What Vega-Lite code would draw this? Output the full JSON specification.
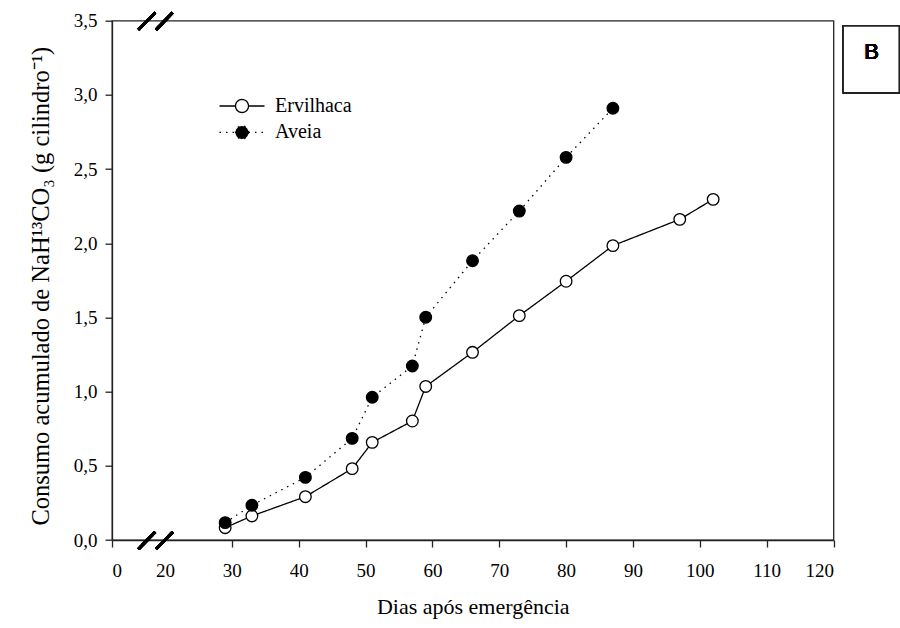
{
  "$schema": "https://vega.github.io/schema/vega-lite/v6.json",
  "width": 721.5,
  "height": 519.3,
  "autosize": {"type": "none"},
  "padding": {"left": 112, "top": 20.7, "right": 66.5, "bottom": 88},
  "background": "white",
  "config": {
    "view": {"stroke": "#222", "strokeWidth": 1.3},
    "font": "Liberation Serif",
    "axis": {
      "grid": false,
      "domainColor": "#222",
      "domainWidth": 1.3,
      "tickColor": "#222",
      "tickWidth": 1.3,
      "tickSize": 7,
      "labelFont": "Liberation Serif",
      "labelFontSize": 19,
      "labelColor": "black",
      "titleFont": "Liberation Serif",
      "titleFontWeight": "normal",
      "titleColor": "black"
    }
  },
  "data": {
    "values": [
      {"dias": 29, "consumo": 0.083, "serie": "Ervilhaca"},
      {"dias": 33, "consumo": 0.162, "serie": "Ervilhaca"},
      {"dias": 41, "consumo": 0.292, "serie": "Ervilhaca"},
      {"dias": 48, "consumo": 0.481, "serie": "Ervilhaca"},
      {"dias": 51, "consumo": 0.658, "serie": "Ervilhaca"},
      {"dias": 57, "consumo": 0.802, "serie": "Ervilhaca"},
      {"dias": 59, "consumo": 1.035, "serie": "Ervilhaca"},
      {"dias": 66, "consumo": 1.265, "serie": "Ervilhaca"},
      {"dias": 73, "consumo": 1.512, "serie": "Ervilhaca"},
      {"dias": 80, "consumo": 1.744, "serie": "Ervilhaca"},
      {"dias": 87, "consumo": 1.984, "serie": "Ervilhaca"},
      {"dias": 97, "consumo": 2.161, "serie": "Ervilhaca"},
      {"dias": 102, "consumo": 2.296, "serie": "Ervilhaca"},
      {"dias": 29, "consumo": 0.117, "serie": "Aveia"},
      {"dias": 33, "consumo": 0.234, "serie": "Aveia"},
      {"dias": 41, "consumo": 0.422, "serie": "Aveia"},
      {"dias": 48, "consumo": 0.685, "serie": "Aveia"},
      {"dias": 51, "consumo": 0.962, "serie": "Aveia"},
      {"dias": 57, "consumo": 1.173, "serie": "Aveia"},
      {"dias": 59, "consumo": 1.501, "serie": "Aveia"},
      {"dias": 66, "consumo": 1.882, "serie": "Aveia"},
      {"dias": 73, "consumo": 2.217, "serie": "Aveia"},
      {"dias": 80, "consumo": 2.579, "serie": "Aveia"},
      {"dias": 87, "consumo": 2.91, "serie": "Aveia"}
    ]
  },
  "layer": [
    {
      "mark": {"type": "line", "color": "black", "strokeWidth": 1.3},
      "encoding": {
        "x": {
          "field": "dias",
          "type": "quantitative",
          "scale": {"type": "linear", "domain": [0, 20, 120], "range": [0, 53, 721.5], "nice": false, "zero": false},
          "axis": {
            "values": [0, 20, 30, 40, 50, 60, 70, 80, 90, 100, 110, 120],
            "format": "d",
            "labelPadding": 14,
            "title": "Dias após emergência",
            "titleFontSize": 22,
            "titlePadding": 16,
            "tickOpacity": {"condition": {"test": "datum.value == 20", "value": 0}, "value": 1}
          }
        },
        "y": {
          "field": "consumo",
          "type": "quantitative",
          "scale": {"domain": [0, 3.5], "nice": false, "zero": true},
          "axis": {
            "values": [0, 0.5, 1, 1.5, 2, 2.5, 3, 3.5],
            "labelExpr": "replace(format(datum.value, '.1f'), '.', ',')",
            "labelPadding": 8,
            "title": "Consumo acumulado de NaH¹³CO₃ (g cilindro⁻¹)",
            "titleFontSize": 24.5,
            "titlePadding": 20,
            "titleY": 265
          }
        },
        "strokeDash": {
          "field": "serie",
          "type": "nominal",
          "scale": {"domain": ["Ervilhaca", "Aveia"], "range": [[1, 0], [1.5, 5]]},
          "legend": {
            "orient": "none",
            "legendX": 119,
            "legendY": 74.3,
            "title": null,
            "symbolType": "M-2.25,0H-0.65M0.65,0H2.25M0.65,0A0.65,0.65 0 1,1 -0.65,0A0.65,0.65 0 1,1 0.65,0Z",
            "symbolSize": 400,
            "symbolStrokeWidth": 1.3,
            "symbolStrokeColor": "black",
            "labelFont": "Liberation Serif",
            "labelFontSize": 20,
            "labelColor": "black",
            "labelOffset": 22,
            "rowPadding": 5.4
          }
        }
      }
    },
    {
      "mark": {"type": "circle", "size": 135, "stroke": "black", "strokeWidth": 1.3, "opacity": 1},
      "encoding": {
        "x": {"field": "dias", "type": "quantitative"},
        "y": {"field": "consumo", "type": "quantitative"},
        "fill": {
          "field": "serie",
          "type": "nominal",
          "scale": {"domain": ["Ervilhaca", "Aveia"], "range": ["white", "black"]},
          "legend": {
            "orient": "none",
            "legendX": 119,
            "legendY": 74.3,
            "title": null,
            "symbolType": "M-2.25,0H-0.65M0.65,0H2.25M0.65,0A0.65,0.65 0 1,1 -0.65,0A0.65,0.65 0 1,1 0.65,0Z",
            "symbolSize": 400,
            "symbolStrokeWidth": 1.3,
            "symbolStrokeColor": "black",
            "labelFont": "Liberation Serif",
            "labelFontSize": 20,
            "labelColor": "black",
            "labelOffset": 22,
            "rowPadding": 5.4
          }
        }
      }
    },
    {
      "mark": {"type": "rule", "color": "black", "strokeWidth": 2.6},
      "encoding": {"x": {"datum": 9.98}, "x2": {"datum": 16.3}, "y": {"datum": -0.061}, "y2": {"datum": 0.054}}
    },
    {
      "mark": {"type": "rule", "color": "black", "strokeWidth": 2.6},
      "encoding": {"x": {"datum": 16.6}, "x2": {"datum": 21.15}, "y": {"datum": -0.061}, "y2": {"datum": 0.054}}
    },
    {
      "mark": {"type": "rule", "color": "black", "strokeWidth": 2.6},
      "encoding": {"x": {"datum": 9.98}, "x2": {"datum": 16.3}, "y": {"datum": 3.439}, "y2": {"datum": 3.554}}
    },
    {
      "mark": {"type": "rule", "color": "black", "strokeWidth": 2.6},
      "encoding": {"x": {"datum": 16.6}, "x2": {"datum": 21.15}, "y": {"datum": 3.439}, "y2": {"datum": 3.554}}
    },
    {
      "mark": {"type": "rect", "fill": "white", "stroke": "#222", "strokeWidth": 1.2},
      "encoding": {"x": {"datum": 121.47}, "x2": {"datum": 129.8}, "y": {"datum": 3.464}, "y2": {"datum": 3.015}}
    },
    {
      "mark": {"type": "text", "text": "B", "font": "Liberation Sans", "fontSize": 22, "fontWeight": "normal", "color": "black", "align": "center", "baseline": "middle"},
      "encoding": {"x": {"datum": 125.7}, "y": {"datum": 3.291}}
    }
  ]
}
